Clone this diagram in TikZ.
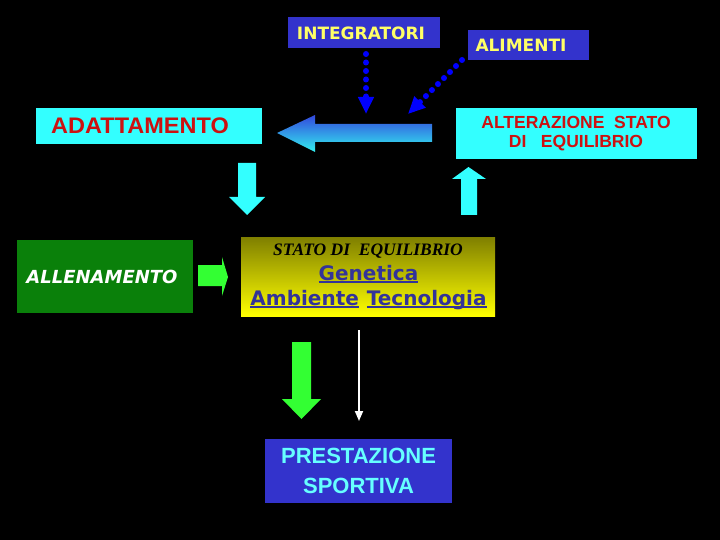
\documentclass[tikz,border=0pt]{standalone}
\usepackage{fontspec}
\setmainfont{Liberation Sans}
\newfontfamily\dvs{DejaVu Sans}
\newfontfamily\tms{Liberation Serif}
\usetikzlibrary{arrows.meta}
\definecolor{boxblue}{HTML}{3333CC}
\definecolor{ylw}{HTML}{FFFF66}
\definecolor{cyn}{HTML}{33FFFF}
\definecolor{redtxt}{HTML}{CC1111}
\definecolor{grn}{HTML}{0A800A}
\definecolor{lgrn}{HTML}{33FF33}
\definecolor{linkblue}{HTML}{333399}
\definecolor{ltcyan}{HTML}{66FFFF}
\definecolor{dotblue}{HTML}{0000FF}
\definecolor{olive}{HTML}{7F7F00}
\definecolor{arrtop}{HTML}{3348DD}
\definecolor{arrbot}{HTML}{33F0F0}
\newcommand\myul[1]{\setbox0\hbox{#1}\rlap{\rule[-3pt]{\wd0}{1.6pt}}\box0}
\begin{document}
\begin{tikzpicture}[x=1pt,y=-1pt,
  rbox/.style={rectangle, inner sep=0pt, draw=none},
  lbl/.style={inner sep=0pt},
  dotarrow/.style={dotblue, line width=6pt, line cap=round, dash pattern=on 0pt off 8.5pt,
    -{Triangle[width=15pt,length=17pt,line cap=butt]}},
  blockcyan/.style={fill=cyn},
  blockgreen/.style={fill=lgrn}]
\fill[black] (0,0) rectangle (720,540);
\useasboundingbox (0,0) rectangle (720,540);

% boxes
\node[rbox, fill=boxblue, minimum width=152pt, minimum height=31pt] (integ) at (364,32.5) {};
\node[lbl, text=ylw, font=\fontsize{17}{20}\selectfont\dvs\bfseries] (integt) at (361,33) {INTEGRATORI};

\node[rbox, fill=boxblue, minimum width=121pt, minimum height=30pt] (alim) at (528.5,45) {};
\node[lbl, text=ylw, font=\fontsize{17}{20}\selectfont\dvs\bfseries] (alimt) at (521,45) {ALIMENTI};

\node[rbox, fill=cyn, minimum width=226pt, minimum height=36pt] (adapt) at (149,126) {};
\node[lbl, anchor=base west, xscale=1.045, text=redtxt, font=\fontsize{22.5}{26}\selectfont\bfseries] (adaptt) at (51,134) {ADATTAMENTO};

\node[rbox, fill=cyn, minimum width=241pt, minimum height=51pt] (alter) at (576.5,133.5) {};
\node[lbl, align=center, text=redtxt, font=\fontsize{17.5}{19}\selectfont\bfseries] (altert) at (576,133.5) {ALTERAZIONE\ \ STATO\\DI\ \ \ EQUILIBRIO};

\node[rbox, fill=grn, minimum width=176pt, minimum height=73pt] (allen) at (105,276.5) {};
\node[lbl, text=white, font=\fontsize{18}{20}\selectfont\dvs\bfseries\itshape] (allent) at (102,276.5) {ALLENAMENTO};

\node[rbox, top color=olive, bottom color=yellow, minimum width=254pt, minimum height=79pt] (stato) at (368,276.5) {};
\node[lbl, anchor=base, font=\fontsize{17.5}{20}\selectfont\tms\bfseries\itshape] (st1) at (368,255) {STATO DI\ \ EQUILIBRIO};
\node[lbl, anchor=base, text=linkblue, font=\fontsize{20}{22}\selectfont\dvs\bfseries] (st2) at (368.5,280) {\myul{Genetica}};
\node[lbl, anchor=base, text=linkblue, font=\fontsize{20}{22}\selectfont\dvs\bfseries] (st3) at (368.5,305) {\myul{Ambiente}\hspace{8pt}\myul{Tecnologia}};

\node[rbox, fill=boxblue, minimum width=187pt, minimum height=64pt] (prest) at (358.5,471) {};
\node[lbl, align=center, text=ltcyan, font=\fontsize{22}{30}\selectfont\bfseries] (prestt) at (358.5,471) {PRESTAZIONE\\SPORTIVA};

% big gradient arrow
\shade[top color=arrtop, bottom color=arrbot]
  (432,124) -- (315,124) -- (315,115) -- (277,133) -- (315,152) -- (315,142) -- (432,142) -- cycle;

% cyan block arrows
\fill[blockcyan] (238,163) -- (256,163) -- (256,197) -- (265,197) -- (247,215) -- (229,197) -- (238,197) -- cycle;
\fill[blockcyan] (461,215) -- (477,215) -- (477,179) -- (486,179) -- (468.5,167) -- (452,179) -- (461,179) -- cycle;

% green block arrows
\fill[blockgreen] (198,265) -- (222,265) -- (222,257) -- (228,277) -- (222,296) -- (222,286) -- (198,286) -- cycle;
\fill[blockgreen] (292,342) -- (311,342) -- (311,399) -- (321,399) -- (301.5,419) -- (282,399) -- (292,399) -- cycle;

% dotted connectors
\coordinate (d1s) at (366,54);
\coordinate (d1e) at (366,114);
\coordinate (d2s) at (462,60);
\coordinate (d2e) at (408,114);
\draw[dotarrow] (d1s) -- (d1e);
\draw[dotarrow] (d2s) -- (d2e);

% white arrow
\coordinate (ws) at (359,330);
\coordinate (we) at (359,421);
\draw[white, line width=1.8pt, -{Triangle[width=8pt,length=10pt]}] (ws) -- (we);
\end{tikzpicture}
\end{document}
